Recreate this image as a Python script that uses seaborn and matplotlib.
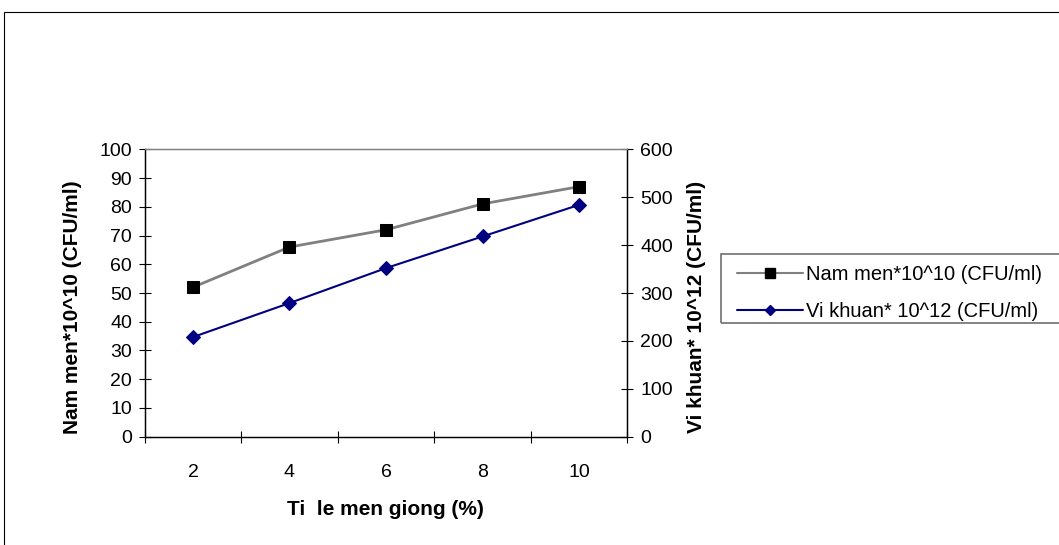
import matplotlib
matplotlib.use("Agg")
import matplotlib.pyplot as plt
from matplotlib.lines import Line2D
from matplotlib.patches import Rectangle
import seaborn as sns
import pandas as pd

# ---- data ----
categories = ["2", "4", "6", "8", "10"]
nam_men = [52, 66, 72, 81, 87]          # left axis
vi_khuan = [208, 279, 352, 418, 484]    # right axis
left_ticks = list(range(0, 101, 10))
right_ticks = list(range(0, 601, 100))
label_nam = "Nam men*10^10 (CFU/ml)"
label_vi = "Vi khuan* 10^12 (CFU/ml)"
xlabel = "Ti  le men giong (%)"

sns.set_style("white")
plt.rcParams["font.family"] = ["Liberation Sans", "DejaVu Sans"]
plt.rcParams["text.color"] = "black"
plt.rcParams["axes.labelcolor"] = "black"
plt.rcParams["xtick.color"] = "black"
plt.rcParams["ytick.color"] = "black"

df = pd.DataFrame({"x": categories, "nam": nam_men, "vi": vi_khuan})

W, H = 1059, 545
fig = plt.figure(figsize=(W / 100, H / 100), dpi=100)
L, R, T, B = 144.7, 627.3, 149.3, 436.7
ax = fig.add_axes([L / W, 1 - B / H, (R - L) / W, (B - T) / H])
ax2 = ax.twinx()

GRAY = "#808080"
NAVY = "#000080"

sns.lineplot(data=df, x="x", y="nam", ax=ax, sort=False, color=GRAY, lw=2,
             marker="s", markersize=8.5, markerfacecolor="black",
             markeredgecolor="black", legend=False)
sns.lineplot(data=df, x="x", y="vi", ax=ax2, sort=False, color=NAVY, lw=1.5,
             marker="D", markersize=7, markerfacecolor=NAVY,
             markeredgecolor=NAVY, legend=False)

n = len(categories)
ax.set_xlim(-0.5, n - 0.5)
ax.set_ylim(0, 100)
ax2.set_ylim(0, 600)

ax.set_xticks([i - 0.5 for i in range(n + 1)])
ax.set_xticklabels([])
ax.set_xticks(list(range(n)), minor=True)
ax.set_xticklabels(categories, minor=True)
ax.set_yticks(left_ticks)
ax.set_yticklabels([str(v) for v in left_ticks])
ax2.set_yticks(right_ticks)
ax2.set_yticklabels([str(v) for v in right_ticks])

tick_kw = dict(direction="inout", length=8.4, width=0.8, color="black",
               labelsize=14, labelcolor="black")
ax.tick_params(axis="x", which="major", **tick_kw)
ax.tick_params(axis="x", which="minor", length=0, pad=20, labelsize=14,
               labelcolor="black")
ax.tick_params(axis="y", which="major", pad=5, **tick_kw)
ax2.tick_params(axis="y", which="major", pad=5, **tick_kw)
ax.tick_params(left=True, bottom=True)
ax2.tick_params(right=True)

for a in (ax, ax2):
    for s in a.spines.values():
        s.set_visible(True)
        s.set_linewidth(0.9)
        s.set_color("black")
    a.spines["top"].set_color(GRAY)
    a.grid(False)

ax.set_xlabel(xlabel, fontsize=15, fontweight="bold", va="center", color="black")
ax.xaxis.set_label_coords(0.498, -0.255)
ax.set_ylabel(label_nam, fontsize=15, fontweight="bold", va="center", color="black")
ax.yaxis.set_label_coords(-0.1506, 0.45)
ax2.set_ylabel(label_vi, fontsize=15, fontweight="bold", va="center",
               rotation=90, color="black")
ax2.yaxis.set_label_coords(1.1438, 0.45)

# outer chart border (clipped at right/bottom)
fig.patches.append(Rectangle((3.5 / W, -0.2), 1.2, 1 - 11.7 / H + 0.2,
                             transform=fig.transFigure, fill=False,
                             edgecolor="black", lw=0.8))
# legend frame
fig.patches.append(Rectangle((720.7 / W, 1 - 322.7 / H), 0.5,
                             (322.7 - 254) / H, transform=fig.transFigure,
                             fill=False, edgecolor="#707070", lw=1.2))

handles = [
    Line2D([], [], color=GRAY, lw=1.5, marker="s", markersize=7,
           markerfacecolor="black", markeredgecolor="black"),
    Line2D([], [], color=NAVY, lw=1.5, marker="D", markersize=5.5,
           markerfacecolor=NAVY, markeredgecolor=NAVY),
]
leg = fig.legend(handles, [label_nam, label_vi], loc="center left",
                 bbox_to_anchor=(737 / W, 1 - 293 / H), frameon=False,
                 fontsize=14.5, handlelength=3.3, handletextpad=0.15,
                 labelspacing=0.85, borderpad=0, borderaxespad=0)
for t in leg.get_texts():
    t.set_color("black")

fig.savefig("out.png", dpi=100, facecolor="white")
